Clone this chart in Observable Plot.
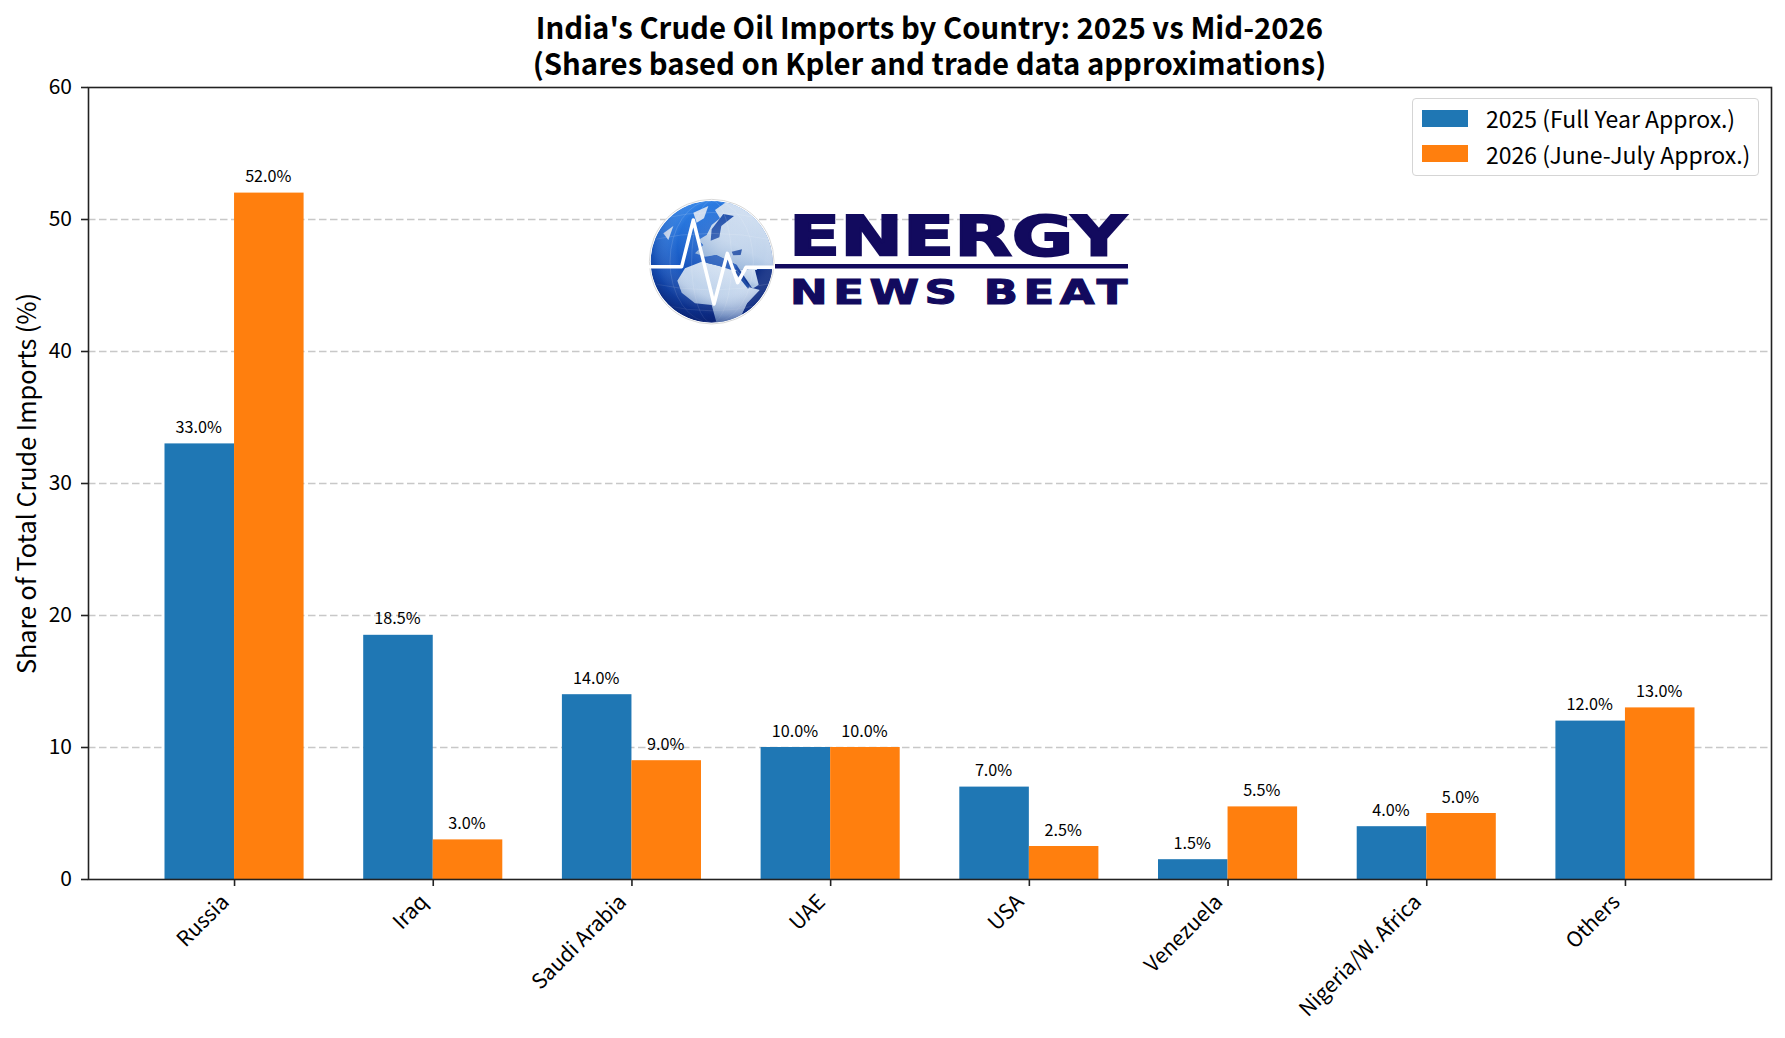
<!DOCTYPE html>
<html><head><meta charset="utf-8">
<script src="https://cdn.jsdelivr.net/npm/d3@7"></script>
<script src="https://cdn.jsdelivr.net/npm/@observablehq/plot@0.6"></script>
<style>
html,body{margin:0;padding:0;background:#fff;}
#wrap{position:relative;width:1785px;height:1038px;overflow:hidden;font-family:"Noto Sans CJK JP","Noto Sans",sans-serif;color:#000;}
#chart{position:absolute;left:0;top:0;}
#title{position:absolute;left:88px;width:1683px;top:9px;text-align:center;font-weight:700;font-size:29.3px;line-height:35.5px;}
#legend{position:absolute;left:1412px;top:98px;width:345px;height:76px;border:1.5px solid #d5d5d5;border-radius:4px;background:rgba(255,255,255,.85);font-size:23px;}
.li{position:absolute;left:9px;height:36px;display:flex;align-items:center;white-space:nowrap;}
.sw{width:46px;height:17px;margin-right:18px;}
#logo{position:absolute;left:0;top:0;pointer-events:none;}
</style></head><body>
<div id="wrap">
  <div id="chart"></div>
  <div id="title">India's Crude Oil Imports by Country: 2025 vs Mid-2026<br>(Shares based on Kpler and trade data approximations)</div>
  <div id="legend"></div>
  <svg id="logo" width="1785" height="1038" viewBox="0 0 1785 1038">
    <defs>
      <linearGradient id="sea" x1="0.2" y1="0.05" x2="0.6" y2="1">
        <stop offset="0" stop-color="#2f84ea"/><stop offset="0.45" stop-color="#1555c0"/><stop offset="1" stop-color="#081e72"/>
      </linearGradient>
      <linearGradient id="land" x1="0.8" y1="0" x2="0.2" y2="1">
        <stop offset="0" stop-color="#d9e5f4"/><stop offset="0.6" stop-color="#bdd1ea"/><stop offset="1" stop-color="#7fa3d0"/>
      </linearGradient>
      <radialGradient id="shade" cx="0.58" cy="0.38" r="0.72">
        <stop offset="0" stop-color="#ffffff" stop-opacity="0.2"/><stop offset="0.5" stop-color="#ffffff" stop-opacity="0"/><stop offset="0.78" stop-color="#0d2a80" stop-opacity="0.3"/><stop offset="1" stop-color="#08185c" stop-opacity="0.95"/>
      </radialGradient>
      <clipPath id="gc"><circle cx="215" cy="215" r="183"/></clipPath>
    </defs>
    <g transform="translate(640,190) scale(0.3333)">
      <circle cx="215" cy="215" r="187" fill="#fff" stroke="#d8d8d8" stroke-width="3"/>
      <g clip-path="url(#gc)">
        <circle cx="215" cy="215" r="183" fill="url(#sea)"/>
        <path d="M165,190 L190,165 L175,150 L200,135 L215,105 L240,85 L225,60 L260,35 L340,50 L410,150 L410,235 L345,235 L300,240 L290,225 L230,195 L195,200Z" fill="url(#land)"/>
        <path d="M112,272 L135,235 L185,215 L290,240 L328,292 L360,300 L322,340 L295,395 L230,400 L215,345 L165,340 L125,308Z" fill="url(#land)"/>
        <path d="M300,240 L348,235 L375,272 L338,296Z" fill="url(#land)"/>
        <path d="M345,240 L410,240 L410,410 L290,410 L322,340 L360,300Z" fill="#122f84"/>
        <path d="M160,68 L205,48 L192,85 L170,98Z" fill="#cddcf0"/>
        <path d="M70,130 L100,108 L85,150Z" fill="#cddcf0"/>
        <path d="M215,118 L250,72 L282,78 L244,108 L238,142 L212,152Z" fill="#1a4aa8"/>
        <path d="M195,205 L225,195 L260,210 L292,226 L282,242 L230,226 L205,220Z" fill="#1c55b8"/>
        <path d="M275,185 L306,178 L302,195 L280,196Z" fill="#1c4aa4"/>
        <path d="M290,240 L330,290 L324,296 L284,246Z" fill="#1c4aa4"/>
        <g fill="none" stroke="#ffffff" stroke-opacity="0.28" stroke-width="1.5">
          <ellipse cx="215" cy="215" rx="60" ry="183"/>
          <ellipse cx="215" cy="215" rx="125" ry="183"/>
          <path d="M32,150 Q215,110 398,150"/>
          <path d="M32,280 Q215,320 398,280"/>
          <path d="M70,85 Q215,50 360,85"/>
          <path d="M70,345 Q215,380 360,345"/>
        </g>
        <circle cx="215" cy="215" r="183" fill="url(#shade)"/>
      </g>
      <polyline points="30,230 125,230 160,90 222,342 262,190 293,278 318,232 400,232" fill="none" stroke="#fff" stroke-width="10.5" stroke-linejoin="round" stroke-linecap="round"/>
    </g>
    <rect x="775" y="264" width="353" height="4.5" fill="#120a5e"/>
    <text x="789" y="254.5" font-family="DejaVu Sans" font-weight="700" font-size="56" fill="#120a5e" stroke="#120a5e" stroke-width="2" textLength="337" lengthAdjust="spacingAndGlyphs">ENERGY</text>
    <g transform="translate(790,303.5) scale(1.36,1)">
      <text x="0" y="0" font-family="DejaVu Sans" font-weight="700" font-size="33" fill="#120a5e" stroke="#120a5e" stroke-width="1.1" textLength="248" lengthAdjust="spacing">NEWS BEAT</text>
    </g>
  </svg>
</div>
<script>
const categories = ["Russia","Iraq","Saudi Arabia","UAE","USA","Venezuela","Nigeria/W. Africa","Others"];
const shares2025 = [33, 18.5, 14, 10, 7, 1.5, 4, 12];
const shares2026 = [52, 3, 9, 10, 2.5, 5.5, 5, 13];
const seriesNames = ["2025 (Full Year Approx.)","2026 (June-July Approx.)"];
const seriesColors = ["#1f77b4","#ff7f0e"];
const yTicks = [0,10,20,30,40,50,60];
const gridTicks = [10,20,30,40,50];
const barWidth = 0.35;

const rows = categories.flatMap((c,i)=>[
  {i, c, v:shares2025[i], s:0, x1:i-barWidth, x2:i},
  {i, c, v:shares2026[i], s:1, x1:i, x2:i+barWidth}
]);
const tickIdx = categories.map((c,i)=>i);

const plot = Plot.plot({
  width:1785, height:1038,
  marginTop:87, marginBottom:159, marginLeft:88, marginRight:14,
  style:{fontFamily:'"Noto Sans CJK JP","Noto Sans",sans-serif',background:"transparent",color:"#000"},
  x:{type:"linear",domain:[-0.735,7.735]},
  y:{domain:[0,60]},
  marks:[
    Plot.ruleY(gridTicks,{stroke:"#c8c8c8",strokeWidth:1.5,strokeDasharray:"7.5,3.5"}),
    Plot.rectY(rows,{x1:"x1",x2:"x2",y1:0,y2:"v",fill:d=>seriesColors[d.s]}),
    Plot.text(rows,{x:d=>(d.x1+d.x2)/2,y:"v",text:d=>d.v.toFixed(1)+"%",dy:-16,dx:-1,fontSize:16.2,fill:"#000"}),
    Plot.axisY({ticks:yTicks,tickSize:7,tickPadding:9.5,label:null,fontSize:21,stroke:"#222",strokeWidth:1.6,fill:"#000"}),
    Plot.axisX({ticks:tickIdx,tickFormat:()=>"",tickSize:7,label:null,stroke:"#222",strokeWidth:1.6}),
    Plot.axisX({ticks:tickIdx,tickFormat:i=>categories[i],tickSize:0,tickPadding:19,tickRotate:-45,textAnchor:"end",dx:-9,label:null,fontSize:21,fill:"#000"}),
    Plot.frame({stroke:"#222",strokeWidth:1.6}),
    Plot.text(["Share of Total Crude Imports (%)"],{frameAnchor:"left",textAnchor:"middle",rotate:-90,dx:-61,fontSize:25.2,fill:"#000"})
  ]
});
document.getElementById("chart").appendChild(plot);

const lg = document.getElementById("legend");
seriesNames.forEach((n,k)=>{
  const li=document.createElement("div");li.className="li";li.style.top=(1+k*35.5)+"px";
  const sw=document.createElement("div");sw.className="sw";sw.style.background=seriesColors[k];
  const t=document.createElement("span");t.textContent=n;
  li.append(sw,t);lg.appendChild(li);
});
</script>
</body></html>
